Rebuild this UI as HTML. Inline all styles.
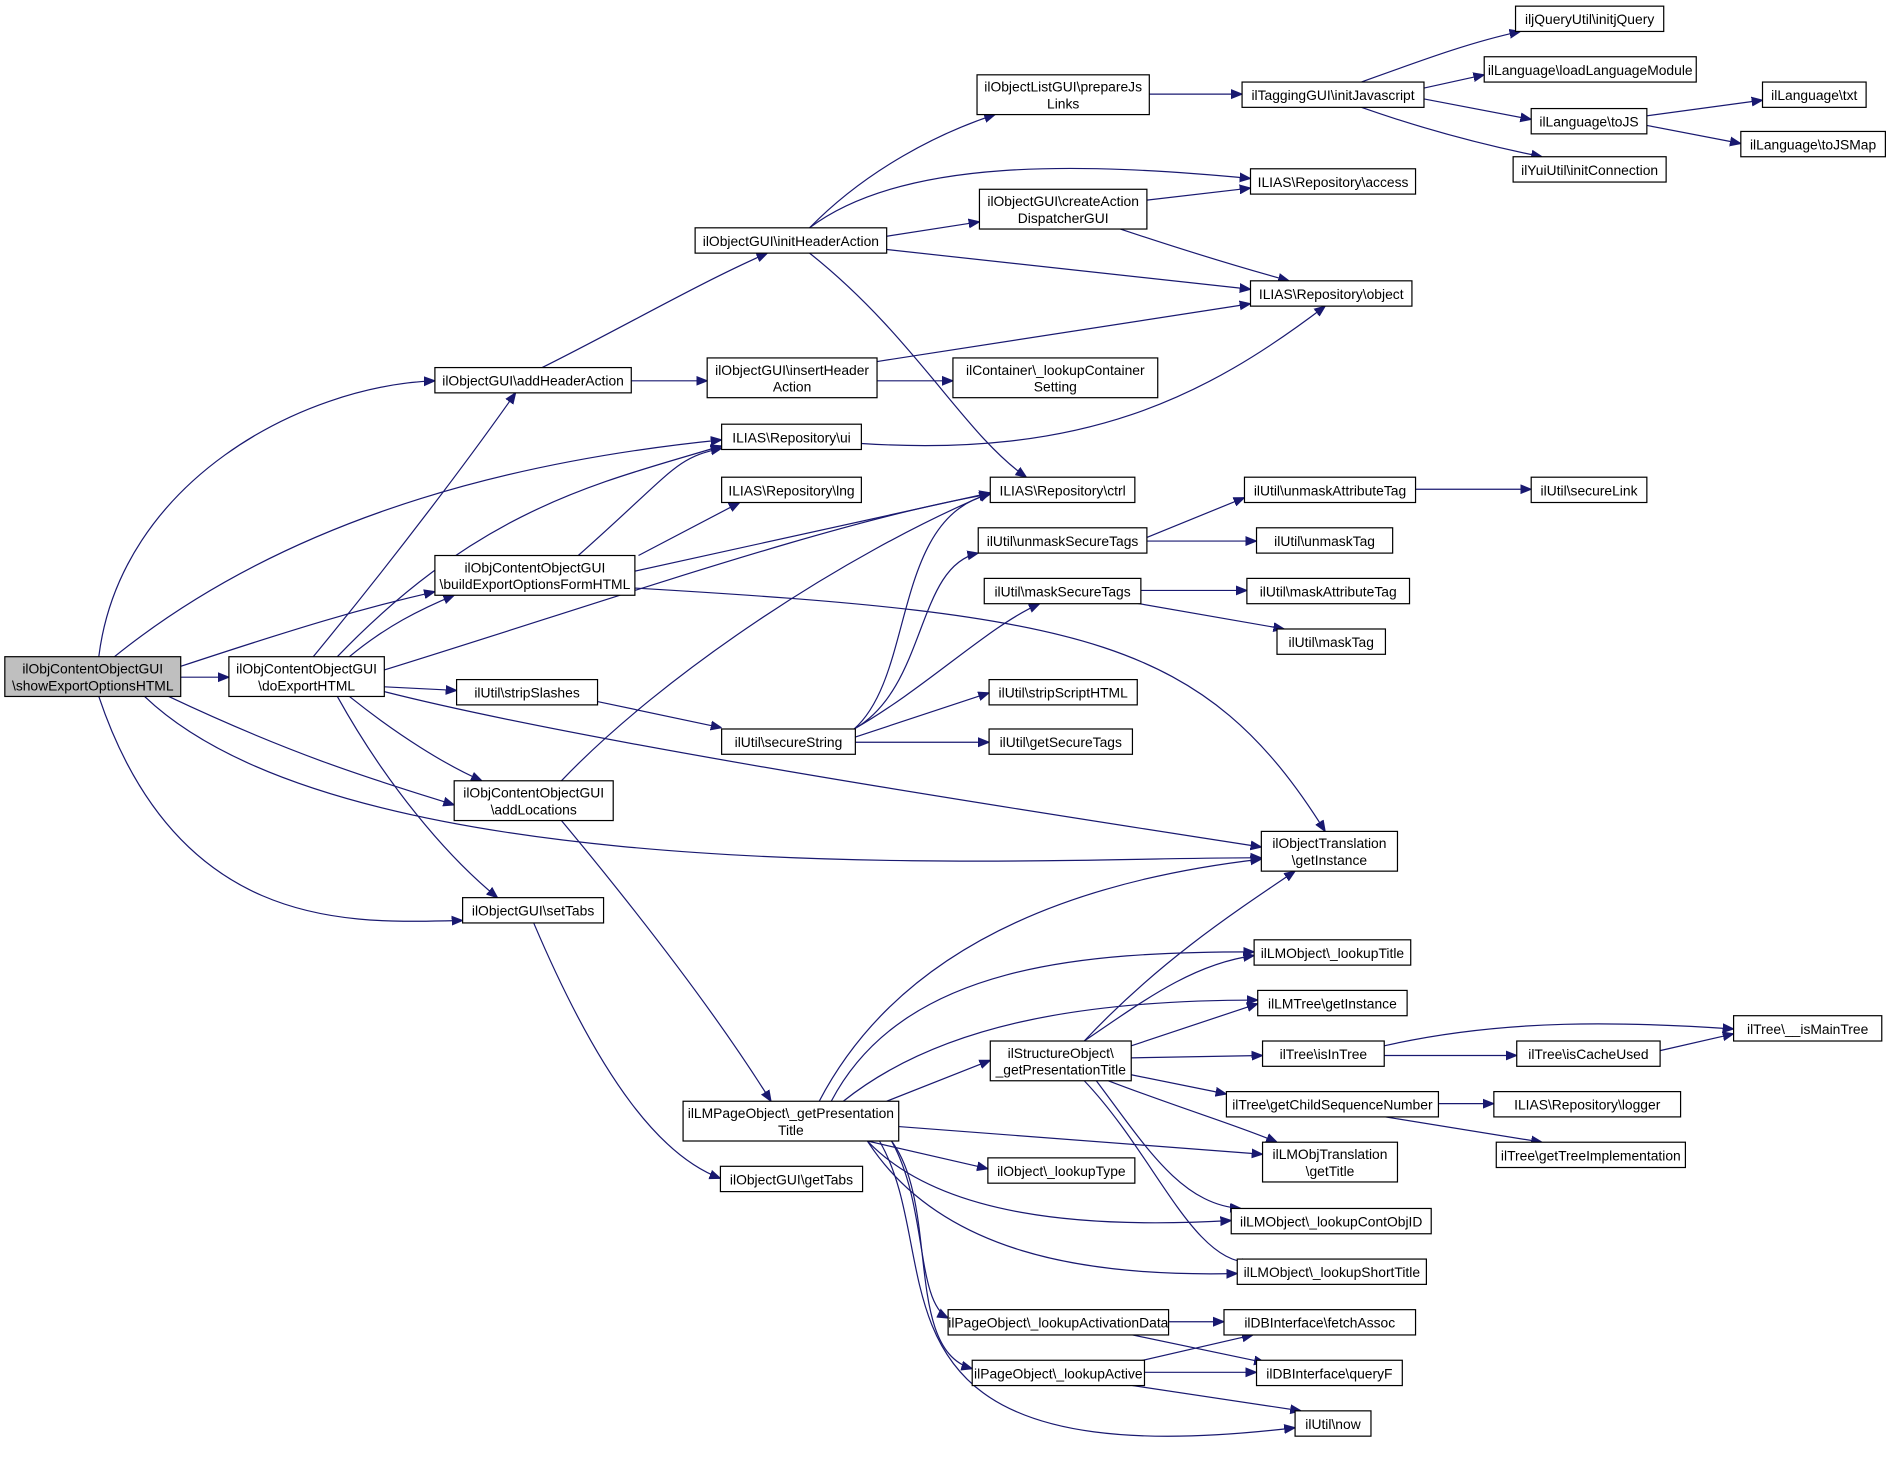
<!DOCTYPE html>
<html><head><meta charset="utf-8"><style>
html,body{margin:0;padding:0;background:#fff;}
svg{display:block}
text{font-family:"Liberation Sans",sans-serif;font-size:11.5px;fill:#000;text-anchor:middle}
.n{fill:#fff;stroke:#000;stroke-width:1}
.e{fill:none;stroke:#191970;stroke-width:1}
</style></head><body>
<svg width="1889" height="1464" viewBox="0 0 1568 1215" xmlns="http://www.w3.org/2000/svg">
<defs><marker id="a" viewBox="0 0 10 10" refX="10" refY="5" markerWidth="9" markerHeight="9" orient="auto" markerUnits="userSpaceOnUse"><path d="M0,1 L10,5 L0,9 z" fill="#191970" stroke="#191970"/></marker></defs>
<g class="e" marker-end="url(#a)">
<path d="M82,545 C100,400 250,320 361,316"/>
<path d="M95,545 C250,420 450,380 599,365"/>
<path d="M150,553 C250,520 300,505 361,491"/>
<path d="M150,562 L190,562"/>
<path d="M140,578 C250,630 320,650 377,668"/>
<path d="M120,578 C300,750 900,710 1047,712"/>
<path d="M82,578 C150,780 300,765 384,764"/>
<path d="M260,545 C330,460 390,380 428,326"/>
<path d="M280,545 C400,420 500,400 599,370"/>
<path d="M290,545 C320,520 350,505 377,494"/>
<path d="M319,556 C500,500 700,430 822,410"/>
<path d="M319,570 L379,573"/>
<path d="M290,578 C330,610 370,635 400,648"/>
<path d="M319,574 C500,620 900,680 1047,703"/>
<path d="M280,578 C320,650 370,710 413,745"/>
<path d="M450,305 C520,270 580,235 637,210"/>
<path d="M524,316 L587,316"/>
<path d="M672,189 C720,140 780,110 826,95"/>
<path d="M672,189 C750,130 900,135 1038,148"/>
<path d="M736,196 L813,184"/>
<path d="M736,207 L1038,240"/>
<path d="M672,210 C760,280 800,360 852,396"/>
<path d="M954,78 L1031,78"/>
<path d="M1130,68 C1180,50 1220,35 1262,26"/>
<path d="M1182,73 L1232,62"/>
<path d="M1182,82 L1271,99"/>
<path d="M1130,89 C1190,110 1240,122 1280,130"/>
<path d="M1367,96 L1463,83"/>
<path d="M1367,104 L1445,119"/>
<path d="M952,166 L1038,156"/>
<path d="M930,190 C990,210 1030,222 1070,233"/>
<path d="M728,300 L1038,252"/>
<path d="M728,316 L791,316"/>
<path d="M715,368 C900,380 1000,330 1100,254"/>
<path d="M480,461 C560,390 560,380 599,372"/>
<path d="M530,461 L614,417"/>
<path d="M527,474 L822,409"/>
<path d="M527,488 C900,510 1000,530 1100,690"/>
<path d="M466,648 C550,560 700,460 822,409"/>
<path d="M466,681 C540,770 600,850 640,914"/>
<path d="M443,766 C500,900 550,960 598,978"/>
<path d="M495,582 L599,604"/>
<path d="M709,605 C760,560 740,430 822,410"/>
<path d="M709,605 C770,570 760,470 812,459"/>
<path d="M709,605 C770,570 820,520 863,501"/>
<path d="M709,612 L821,575"/>
<path d="M709,616 L821,616"/>
<path d="M952,446 L1033,413"/>
<path d="M952,449 L1043,449"/>
<path d="M947,490 L1035,490"/>
<path d="M940,500 L1066,522"/>
<path d="M1175,406 L1271,406"/>
<path d="M680,914 C750,780 900,730 1047,713"/>
<path d="M690,914 C750,800 900,790 1041,790"/>
<path d="M700,914 C780,850 900,830 1044,830"/>
<path d="M736,914 L822,880"/>
<path d="M746,935 L1048,958"/>
<path d="M720,947 L820,970"/>
<path d="M720,947 C780,1010 900,1020 1022,1013"/>
<path d="M720,947 C780,1040 900,1060 1027,1057"/>
<path d="M740,947 C770,1000 760,1080 787,1094"/>
<path d="M740,947 C780,1000 750,1120 807,1136"/>
<path d="M730,947 C790,1050 700,1230 1075,1185"/>
<path d="M900,864 C960,800 1020,760 1075,723"/>
<path d="M900,864 C950,830 990,800 1041,793"/>
<path d="M939,868 L1044,833"/>
<path d="M939,878 L1048,876"/>
<path d="M939,892 L1018,908"/>
<path d="M920,897 C980,920 1030,935 1060,948"/>
<path d="M910,897 C950,950 980,1000 1030,1003"/>
<path d="M900,897 C960,960 990,1050 1040,1048"/>
<path d="M1149,868 C1250,845 1350,848 1439,854"/>
<path d="M1149,876 L1259,876"/>
<path d="M1378,872 L1439,858"/>
<path d="M1194,916 L1240,916"/>
<path d="M1150,927 L1280,948"/>
<path d="M970,1097 L1016,1097"/>
<path d="M940,1108 L1050,1131"/>
<path d="M940,1131 L1040,1108"/>
<path d="M950,1139 L1043,1139"/>
<path d="M940,1150 L1080,1171"/>
</g>
<g>
<rect x="4" y="545" width="146" height="33" fill="#bfbfbf" stroke="#000"/><text x="77" y="559">ilObjContentObjectGUI</text><text x="77" y="573">\showExportOptionsHTML</text>
<rect class="n" x="190" y="545" width="129" height="33"/><text x="254.5" y="559">ilObjContentObjectGUI</text><text x="254.5" y="573">\doExportHTML</text>
<rect class="n" x="361" y="305" width="163" height="21"/><text x="442.5" y="320">ilObjectGUI\addHeaderAction</text>
<rect class="n" x="577" y="189" width="159" height="21"/><text x="656.5" y="204">ilObjectGUI\initHeaderAction</text>
<rect class="n" x="811" y="62" width="143" height="33"/><text x="882.5" y="76">ilObjectListGUI\prepareJs</text><text x="882.5" y="90">Links</text>
<rect class="n" x="1031" y="68" width="151" height="21"/><text x="1106.5" y="83">ilTaggingGUI\initJavascript</text>
<rect class="n" x="1258" y="5" width="123" height="21"/><text x="1319.5" y="20">iljQueryUtil\initjQuery</text>
<rect class="n" x="1232" y="47" width="176" height="21"/><text x="1320" y="62">ilLanguage\loadLanguageModule</text>
<rect class="n" x="1271" y="90" width="96" height="21"/><text x="1319" y="105">ilLanguage\toJS</text>
<rect class="n" x="1463" y="68" width="86" height="21"/><text x="1506" y="83">ilLanguage\txt</text>
<rect class="n" x="1445" y="109" width="120" height="21"/><text x="1505" y="124">ilLanguage\toJSMap</text>
<rect class="n" x="1256" y="130" width="127" height="21"/><text x="1319.5" y="145">ilYuiUtil\initConnection</text>
<rect class="n" x="1038" y="140" width="137" height="21"/><text x="1106.5" y="155">ILIAS\Repository\access</text>
<rect class="n" x="813" y="157" width="139" height="33"/><text x="882.5" y="171">ilObjectGUI\createAction</text><text x="882.5" y="185">DispatcherGUI</text>
<rect class="n" x="1038" y="233" width="134" height="21"/><text x="1105" y="248">ILIAS\Repository\object</text>
<rect class="n" x="587" y="297" width="141" height="33"/><text x="657.5" y="311">ilObjectGUI\insertHeader</text><text x="657.5" y="325">Action</text>
<rect class="n" x="791" y="297" width="170" height="33"/><text x="876" y="311">ilContainer\_lookupContainer</text><text x="876" y="325">Setting</text>
<rect class="n" x="599" y="352" width="116" height="21"/><text x="657" y="367">ILIAS\Repository\ui</text>
<rect class="n" x="599" y="396" width="116" height="21"/><text x="657" y="411">ILIAS\Repository\lng</text>
<rect class="n" x="822" y="396" width="120" height="21"/><text x="882" y="411">ILIAS\Repository\ctrl</text>
<rect class="n" x="361" y="461" width="166" height="33"/><text x="444" y="475">ilObjContentObjectGUI</text><text x="444" y="489">\buildExportOptionsFormHTML</text>
<rect class="n" x="1033" y="396" width="142" height="21"/><text x="1104" y="411">ilUtil\unmaskAttributeTag</text>
<rect class="n" x="1271" y="396" width="96" height="21"/><text x="1319" y="411">ilUtil\secureLink</text>
<rect class="n" x="812" y="438" width="140" height="21"/><text x="882" y="453">ilUtil\unmaskSecureTags</text>
<rect class="n" x="1043" y="438" width="113" height="21"/><text x="1099.5" y="453">ilUtil\unmaskTag</text>
<rect class="n" x="817" y="480" width="130" height="21"/><text x="882" y="495">ilUtil\maskSecureTags</text>
<rect class="n" x="1035" y="480" width="135" height="21"/><text x="1102.5" y="495">ilUtil\maskAttributeTag</text>
<rect class="n" x="1060" y="522" width="90" height="21"/><text x="1105" y="537">ilUtil\maskTag</text>
<rect class="n" x="379" y="564" width="117" height="21"/><text x="437.5" y="579">ilUtil\stripSlashes</text>
<rect class="n" x="599" y="605" width="111" height="21"/><text x="654.5" y="620">ilUtil\secureString</text>
<rect class="n" x="821" y="564" width="123" height="21"/><text x="882.5" y="579">ilUtil\stripScriptHTML</text>
<rect class="n" x="821" y="605" width="119" height="21"/><text x="880.5" y="620">ilUtil\getSecureTags</text>
<rect class="n" x="377" y="648" width="132" height="33"/><text x="443" y="662">ilObjContentObjectGUI</text><text x="443" y="676">\addLocations</text>
<rect class="n" x="1047" y="690" width="113" height="33"/><text x="1103.5" y="704">ilObjectTranslation</text><text x="1103.5" y="718">\getInstance</text>
<rect class="n" x="384" y="745" width="117" height="21"/><text x="442.5" y="760">ilObjectGUI\setTabs</text>
<rect class="n" x="1041" y="780" width="130" height="21"/><text x="1106" y="795">ilLMObject\_lookupTitle</text>
<rect class="n" x="1044" y="822" width="124" height="21"/><text x="1106" y="837">ilLMTree\getInstance</text>
<rect class="n" x="822" y="864" width="117" height="33"/><text x="880.5" y="878">ilStructureObject\</text><text x="880.5" y="892">_getPresentationTitle</text>
<rect class="n" x="1048" y="864" width="101" height="21"/><text x="1098.5" y="879">ilTree\isInTree</text>
<rect class="n" x="1439" y="843" width="123" height="21"/><text x="1500.5" y="858">ilTree\__isMainTree</text>
<rect class="n" x="1259" y="864" width="119" height="21"/><text x="1318.5" y="879">ilTree\isCacheUsed</text>
<rect class="n" x="567" y="914" width="179" height="33"/><text x="656.5" y="928">ilLMPageObject\_getPresentation</text><text x="656.5" y="942">Title</text>
<rect class="n" x="1018" y="906" width="176" height="21"/><text x="1106" y="921">ilTree\getChildSequenceNumber</text>
<rect class="n" x="1240" y="906" width="155" height="21"/><text x="1317.5" y="921">ILIAS\Repository\logger</text>
<rect class="n" x="1242" y="948" width="157" height="21"/><text x="1320.5" y="963">ilTree\getTreeImplementation</text>
<rect class="n" x="1048" y="948" width="112" height="33"/><text x="1104" y="962">ilLMObjTranslation</text><text x="1104" y="976">\getTitle</text>
<rect class="n" x="598" y="968" width="118" height="21"/><text x="657" y="983">ilObjectGUI\getTabs</text>
<rect class="n" x="820" y="961" width="122" height="21"/><text x="881" y="976">ilObject\_lookupType</text>
<rect class="n" x="1022" y="1003" width="166" height="21"/><text x="1105" y="1018">ilLMObject\_lookupContObjID</text>
<rect class="n" x="1027" y="1045" width="157" height="21"/><text x="1105.5" y="1060">ilLMObject\_lookupShortTitle</text>
<rect class="n" x="787" y="1087" width="183" height="21"/><text x="878.5" y="1102">ilPageObject\_lookupActivationData</text>
<rect class="n" x="1016" y="1087" width="159" height="21"/><text x="1095.5" y="1102">ilDBInterface\fetchAssoc</text>
<rect class="n" x="807" y="1129" width="143" height="21"/><text x="878.5" y="1144">ilPageObject\_lookupActive</text>
<rect class="n" x="1043" y="1129" width="121" height="21"/><text x="1103.5" y="1144">ilDBInterface\queryF</text>
<rect class="n" x="1075" y="1171" width="63" height="21"/><text x="1106.5" y="1186">ilUtil\now</text>
</g>
</svg>
</body></html>
